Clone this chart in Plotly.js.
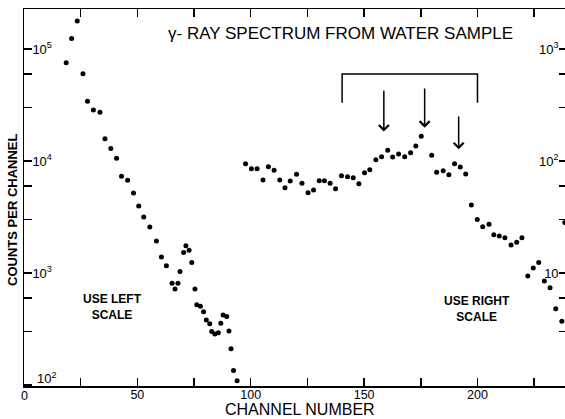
<!DOCTYPE html>
<html>
<head>
<meta charset="utf-8">
<script src="https://cdn.plot.ly/plotly-3.0.1.min.js"></script>
<style>html,body{margin:0;padding:0;background:#fff;} #chart{width:565px;height:419px;}</style>
</head>
<body>
<div id="chart"></div>
<script>
// Left-scale series (counts per channel, left axis)
const leftChannels = [18.6,21.0,23.5,26.0,28.0,30.6,33.5,35.7,38.3,40.8,43.0,45.7,48.3,50.6,52.8,55.5,58.4,60.6,62.8,65.3,66.6,67.9,68.8,70.4,71.4,72.8,74.0,75.4,76.2,77.8,79.2,80.4,81.9,82.8,84.2,85.7,86.8,87.8,89.4,90.4,91.3,92.4,94.0];
const leftCounts = [75500,124000,178000,60000,34100,28500,27200,15800,12900,10600,7300,6730,5180,3960,3160,2580,1930,1390,1160,809,720,809,1030,1520,1750,1600,1240,720,521,505,451,380,352,301,285,293,356,422,408,303,211,135,109];

// Right-scale series (counts per channel, right axis)
const rightChannels = [97.7,100.3,102.8,105.4,107.8,110.3,112.8,115.1,117.4,120.2,122.6,125.3,127.7,130.2,132.5,135.0,137.4,140.0,142.7,145.2,147.7,150.2,152.5,155.2,157.7,160.4,162.6,165.2,167.9,170.5,172.8,175.2,179.8,182.0,184.9,187.4,189.9,192.4,194.8,197.3,199.9,202.3,205.1,207.2,209.6,212.1,214.8,217.3,219.6,222.2,224.6,227.0,229.5,232.0,234.5,237.2,238.5];
const rightCounts = [94.6,85.3,85.3,67.6,88.9,82.6,67.6,57.8,66.2,76.0,63.2,52.1,55.1,66.6,66.6,63.2,56.6,74.0,72.4,71.0,62.7,78.7,83.6,102.8,109.2,124.6,108.6,115.5,109.2,118.6,136.1,166.3,112.5,79.3,81.9,75.5,94.6,88.3,76.6,40.5,30.1,25.9,27.2,22.0,21.4,20.6,17.8,18.8,20.6,9.4,11.1,12.4,8.5,7.4,4.8,3.7,28.2];

// Bracket over the region of interest (right scale units)
const bracketChannels = [140.3,140.3,200.0,200.0];
const bracketCounts = [331,598,598,331];

// Arrows marking peaks (right scale units)
const arrowChannels = [158.7,176.7,191.7];
const arrowTips = [183,198,127];
const arrowTails = [437,458,258];

// Tick definitions
const xTickVals = [0,25,50,75,100,125,150,175,200,225];
const xTickText = ['','','50','','100','','150','','200',''];
const leftTickVals = [100,300,600,1000,3000,6000,10000,30000,60000,100000];
const leftTickText = ['','','','10<sup>3</sup>','','','10<sup>4</sup>','','','10<sup>5</sup>'];
const rightTickVals = [3,6,10,30,60,100,300,600,1000];
const rightTickText = ['','','10','','','10<sup>2</sup>','','','10<sup>3</sup>'];

const FONT = 'Liberation Sans, Arial, sans-serif';

const traces = [
  {x: leftChannels, y: leftCounts, type: 'scatter', mode: 'markers', yaxis: 'y',
   marker: {color: '#000', size: 5}, hoverinfo: 'skip'},
  {x: rightChannels, y: rightCounts, type: 'scatter', mode: 'markers', yaxis: 'y2',
   marker: {color: '#000', size: 5}, hoverinfo: 'skip'},
  {x: bracketChannels, y: bracketCounts, type: 'scatter', mode: 'lines', yaxis: 'y2',
   line: {color: '#000', width: 1.5}, hoverinfo: 'skip'}
];

const annotations = arrowChannels.map((c, i) => ({
  x: c, y: Math.log10(arrowTips[i]), xref: 'x', yref: 'y2',
  ax: c, ay: Math.log10(arrowTails[i]), axref: 'x', ayref: 'y2',
  showarrow: true, arrowhead: 4, arrowsize: 1.3, arrowwidth: 1.5, arrowcolor: '#000', text: ''
}));

annotations.push(
  {text: 'γ- RAY SPECTRUM FROM WATER SAMPLE', xref: 'paper', yref: 'paper', x: 0.585, y: 0.936,
   showarrow: false, xanchor: 'center', yanchor: 'middle', font: {family: FONT, size: 17, color: '#000'}},
  {text: 'CHANNEL NUMBER', xref: 'paper', yref: 'paper', x: 0.51, y: 0, yanchor: 'top', yshift: -13,
   showarrow: false, xanchor: 'center', font: {family: FONT, size: 16, color: '#000'}},
  {text: '<b>COUNTS PER CHANNEL</b>', xref: 'paper', yref: 'paper', x: -0.0203, y: 0.467,
   textangle: -90, showarrow: false, xanchor: 'center', yanchor: 'middle', font: {family: FONT, size: 13, color: '#000'}},
  {text: '<b>USE LEFT<br>SCALE</b>', xref: 'paper', yref: 'paper', x: 0.1645, y: 0.2095,
   showarrow: false, xanchor: 'center', yanchor: 'middle', align: 'center', font: {family: FONT, size: 12, color: '#000'}},
  {text: '<b>USE RIGHT<br>SCALE</b>', xref: 'paper', yref: 'paper', x: 0.837, y: 0.204,
   showarrow: false, xanchor: 'center', yanchor: 'middle', align: 'center', font: {family: FONT, size: 12, color: '#000'}},
  {text: '0', xref: 'x', yref: 'paper', x: 0, y: 0, yanchor: 'top', xanchor: 'center', yshift: -1,
   showarrow: false, font: {family: FONT, size: 12.5, color: '#000'}},
  {text: '10<sup>2</sup>', xref: 'paper', yref: 'paper', x: 0.02, y: 0, yanchor: 'bottom', xanchor: 'left', yshift: -2,
   showarrow: false, font: {family: FONT, size: 13, color: '#000'}}
);

const layout = {
  width: 565, height: 419,
  margin: {l: 24, r: 0, t: 9, b: 33, pad: 0},
  paper_bgcolor: '#fff', plot_bgcolor: '#fff',
  showlegend: false,
  font: {family: FONT, color: '#000'},
  xaxis: {
    range: [0, 238.6], tickmode: 'array', tickvals: xTickVals, ticktext: xTickText,
    ticks: 'inside', ticklen: 8, tickwidth: 1.5, tickcolor: '#000', ticklabelstandoff: -4,
    showline: true, linewidth: 1.5, linecolor: '#000', mirror: 'ticks',
    showgrid: false, zeroline: false, tickfont: {family: FONT, size: 12.5, color: '#000'}
  },
  yaxis: {
    type: 'log', range: [1.991, 5.357], tickmode: 'array', tickvals: leftTickVals, ticktext: leftTickText,
    ticks: 'inside', ticklen: 8, tickwidth: 1.5, tickcolor: '#000', ticklabelposition: 'inside',
    showline: true, linewidth: 1.5, linecolor: '#000',
    showgrid: false, zeroline: false, tickfont: {family: FONT, size: 13, color: '#000'}
  },
  yaxis2: {
    type: 'log', range: [-0.009, 3.357], overlaying: 'y', side: 'right', anchor: 'x',
    tickmode: 'array', tickvals: rightTickVals, ticktext: rightTickText,
    ticks: 'inside', ticklen: 6, tickwidth: 1.5, tickcolor: '#000', ticklabelposition: 'inside',
    showline: false, showgrid: false, zeroline: false, tickfont: {family: FONT, size: 13, color: '#000'}
  },
  annotations: annotations
};

Plotly.newPlot('chart', traces, layout, {staticPlot: true, displayModeBar: false});
</script>
</body>
</html>
